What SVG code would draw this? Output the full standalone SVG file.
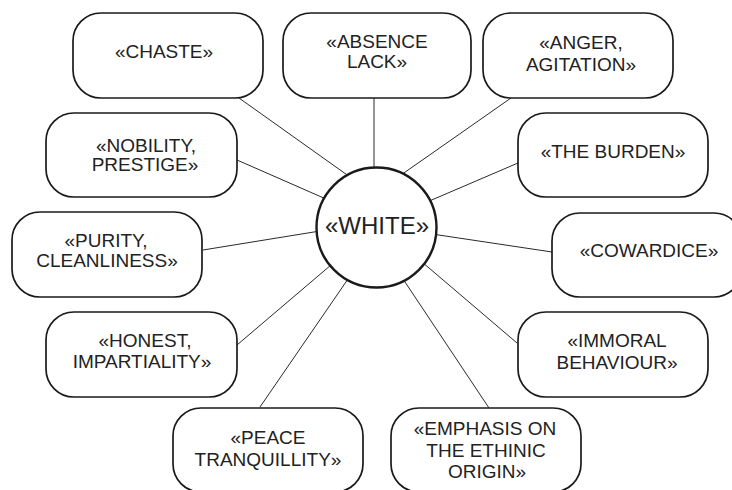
<svg xmlns="http://www.w3.org/2000/svg" width="732" height="490" viewBox="0 0 732 490">
<style>
.box{fill:#fff;stroke:#1a1a1a;stroke-width:1.7}
.hub{fill:#fff;stroke:#1a1a1a;stroke-width:2.4}
.t{font-family:"Liberation Sans",Arial,sans-serif;font-size:19px;fill:#222;text-anchor:middle}
.big{font-size:24px}
.c line{stroke:#2a2a2a;stroke-width:1}
</style>
<rect width="732" height="490" fill="#fff"/>
<g class="c" id="connectors">
<line x1="239" y1="98" x2="350" y2="177"/>
<line x1="374" y1="98" x2="374" y2="170"/>
<line x1="511" y1="98" x2="401" y2="175"/>
<line x1="237" y1="160" x2="326" y2="199"/>
<line x1="518" y1="163" x2="427" y2="202"/>
<line x1="203" y1="250" x2="320" y2="231"/>
<line x1="432" y1="234" x2="552" y2="252"/>
<line x1="237" y1="345" x2="331" y2="265"/>
<line x1="260" y1="407" x2="348" y2="279"/>
<line x1="422" y1="262" x2="517" y2="343"/>
<line x1="403" y1="279" x2="489" y2="408"/>
</g>
<g id="white"><circle class="hub" cx="376.5" cy="227.5" r="60"/><text class="t big" x="377" y="234">«WHITE»</text></g>
<g id="chaste"><rect class="box" x="73" y="13" width="190" height="85" rx="28"/><text class="t" x="164" y="58">«CHASTE»</text></g>
<g id="absence"><rect class="box" x="283" y="13" width="188" height="85" rx="28"/><text class="t" x="377" y="48">«ABSENCE</text><text class="t" x="377" y="68">LACK»</text></g>
<g id="anger"><rect class="box" x="483" y="13" width="190" height="85" rx="28"/><text class="t" x="581" y="49">«ANGER,</text><text class="t" x="581" y="71">AGITATION»</text></g>
<g id="nobility"><rect class="box" x="46" y="113" width="191" height="84" rx="28"/><text class="t" x="146" y="152">«NOBILITY,</text><text class="t" x="145" y="171">PRESTIGE»</text></g>
<g id="burden"><rect class="box" x="518" y="113" width="190" height="84" rx="28"/><text class="t" x="613" y="158">«THE BURDEN»</text></g>
<g id="purity"><rect class="box" x="12" y="212" width="190" height="85" rx="28"/><text class="t" x="106" y="247">«PURITY,</text><text class="t" x="107" y="267">CLEANLINESS»</text></g>
<g id="cowardice"><rect class="box" x="552" y="213" width="190" height="84" rx="28"/><text class="t" x="649" y="257">«COWARDICE»</text></g>
<g id="honest"><rect class="box" x="46" y="312" width="191" height="85" rx="28"/><text class="t" x="145" y="347">«HONEST,</text><text class="t" x="142" y="368">IMPARTIALITY»</text></g>
<g id="immoral"><rect class="box" x="518" y="312" width="190" height="85" rx="28"/><text class="t" x="617" y="347">«IMMORAL</text><text class="t" x="617" y="369">BEHAVIOUR»</text></g>
<g id="peace"><rect class="box" x="173" y="408" width="190" height="84" rx="28"/><text class="t" x="268" y="444">«PEACE</text><text class="t" x="268" y="466">TRANQUILLITY»</text></g>
<g id="emphasis"><rect class="box" x="391" y="408" width="190" height="84" rx="28"/><text class="t" x="485" y="435">«EMPHASIS ON</text><text class="t" x="486" y="457">THE ETHINIC</text><text class="t" x="487" y="478">ORIGIN»</text></g>
</svg>
